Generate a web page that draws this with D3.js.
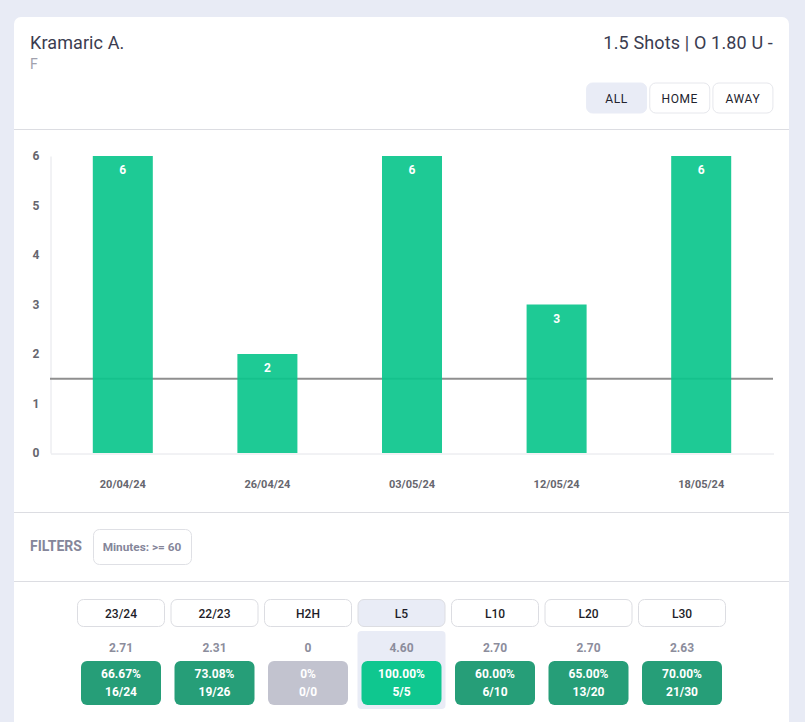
<!DOCTYPE html>
<html>
<head>
<meta charset="utf-8">
<script src="https://cdn.jsdelivr.net/npm/d3@7"></script>
<style>
html, body { margin: 0; padding: 0; background: #e8ebf5; overflow: hidden; }
text { font-family: Roboto, sans-serif; }
</style>
</head>
<body>
<div id="chart"></div>
<script>
//chart data
var dates = ["20/04/24", "26/04/24", "03/05/24", "12/05/24", "18/05/24"];
var shots = [6, 2, 6, 3, 6];
var yTicks = [0, 1, 2, 3, 4, 5, 6];
var lineValue = 1.5;

//period table data
var periods = ["23/24", "22/23", "H2H", "L5", "L10", "L20", "L30"];
var averages = ["2.71", "2.31", "0", "4.60", "2.70", "2.70", "2.63"];
var percents = ["66.67%", "73.08%", "0%", "100.00%", "60.00%", "65.00%", "70.00%"];
var records = ["16/24", "19/26", "0/0", "5/5", "6/10", "13/20", "21/30"];
var activePeriod = "L5";

var venues = ["ALL", "HOME", "AWAY"];

var svgWidth = 805;
var svgHeight = 722;

var plot = { top: 156, bottom: 453, left: 50, right: 773 };

var svg = d3.select("#chart")
    .append("svg")
    .attr("width", svgWidth)
    .attr("height", svgHeight)
    .style("display", "block");

//card and dividers
svg.append("rect")
    .attr("x", 14).attr("y", 17)
    .attr("width", 775).attr("height", 730)
    .attr("rx", 7)
    .attr("fill", "#fff");

svg.selectAll(".divider")
    .data([129.5, 512.5, 581.5])
    .enter()
    .append("line")
    .attr("class", "divider")
    .attr("x1", 14).attr("x2", 789)
    .attr("y1", d => d).attr("y2", d => d)
    .attr("stroke", "#dcdde2");

//header
svg.append("text")
    .attr("x", 30).attr("y", 49)
    .attr("font-size", 18)
    .attr("letter-spacing", 0.1)
    .attr("fill", "#3b3c50")
    .text("Kramaric A.");

svg.append("text")
    .attr("x", 30).attr("y", 69)
    .attr("font-size", 14)
    .attr("fill", "#a0a1ad")
    .text("F");

svg.append("text")
    .attr("x", 773).attr("y", 49)
    .attr("text-anchor", "end")
    .attr("font-size", 18)
    .attr("letter-spacing", 0.15)
    .attr("fill", "#3b3c50")
    .text("1.5 Shots | O 1.80 U -");

//venue buttons
var venueX = d3.scaleBand()
    .domain(venues)
    .range([585, 774.5]);

var venueG = svg.selectAll(".venue")
    .data(venues)
    .enter()
    .append("g")
    .attr("class", "venue")
    .attr("transform", d => `translate(${venueX(d) + venueX.bandwidth() / 2}, 98)`);

venueG.append("rect")
    .attr("x", -30).attr("y", -15)
    .attr("width", 60).attr("height", 30)
    .attr("rx", 6)
    .attr("fill", d => d == "ALL" ? "#e9ecf6" : "#fff")
    .attr("stroke", d => d == "ALL" ? "#e9ecf6" : "#e6e7ec");

venueG.append("text")
    .attr("text-anchor", "middle")
    .attr("y", 4.5)
    .attr("font-size", 12)
    .attr("font-weight", 400)
    .attr("letter-spacing", 0.6)
    .attr("fill", "#22232e")
    .text(d => d);

//scales
var x = d3.scaleBand()
    .domain(dates)
    .range([plot.left + 0.5, plot.right + 0.5])
    .paddingInner(0.585)
    .paddingOuter(0.2925);

var y = d3.scaleLinear()
    .domain([0, 6])
    .range([plot.bottom, plot.top]);

//axes
var leftAxis = d3.axisLeft(y).tickValues(yTicks).tickSize(0).tickPadding(11).tickFormat(d3.format("d"));
var bottomAxis = d3.axisBottom(x).tickSize(0).tickPadding(27);

var leftG = svg.append("g")
    .attr("transform", `translate(${plot.left + 0.5}, 0)`)
    .call(leftAxis);

var bottomG = svg.append("g")
    .attr("transform", `translate(0, ${plot.bottom + 0.5})`)
    .call(bottomAxis);

leftG.select(".domain").attr("stroke", "#e4e5ea");
bottomG.select(".domain").attr("stroke", "#e4e5ea");

svg.selectAll(".tick text")
    .attr("font-family", "Roboto, sans-serif")
    .attr("font-size", 12)
    .attr("font-weight", 700)
    .attr("fill", "#66666e");

bottomG.selectAll(".tick text").attr("font-size", 11);

//line value sits behind the bars
svg.append("line")
    .attr("x1", plot.left).attr("x2", plot.right)
    .attr("y1", y(lineValue)).attr("y2", y(lineValue))
    .attr("stroke", "#8f8f8f")
    .attr("stroke-width", 2);

//bars
svg.selectAll(".bar")
    .data(shots)
    .enter()
    .append("rect")
    .attr("class", "bar")
    .attr("x", (d, i) => x(dates[i]))
    .attr("y", d => y(d))
    .attr("width", x.bandwidth())
    .attr("height", d => y(0) - y(d))
    .attr("fill", "#0bc68c")
    .attr("fill-opacity", 0.92);

//bar labels
svg.selectAll(".barLabel")
    .data(shots)
    .enter()
    .append("text")
    .attr("class", "barLabel")
    .attr("x", (d, i) => x(dates[i]) + x.bandwidth() / 2)
    .attr("y", d => y(d) + 18)
    .attr("text-anchor", "middle")
    .attr("font-size", 12)
    .attr("font-weight", 700)
    .attr("fill", "#fff")
    .text(d => d);

//filters row
svg.append("text")
    .attr("x", 30).attr("y", 551)
    .attr("font-size", 14)
    .attr("font-weight", 700)
    .attr("fill", "#85869a")
    .text("FILTERS");

svg.append("rect")
    .attr("x", 93.5).attr("y", 529.5)
    .attr("width", 98).attr("height", 35)
    .attr("rx", 6)
    .attr("fill", "#fff")
    .attr("stroke", "#dfe0e5");

svg.append("text")
    .attr("x", 142).attr("y", 551)
    .attr("text-anchor", "middle")
    .attr("font-size", 11.8)
    .attr("font-weight", 700)
    .attr("fill", "#85869a")
    .text("Minutes: >= 60");

//period columns
var periodX = d3.scaleBand()
    .domain(periods)
    .range([74.25, 728.75]);

var col = svg.selectAll(".period")
    .data(periods)
    .enter()
    .append("g")
    .attr("class", "period")
    .attr("transform", d => `translate(${periodX(d) + periodX.bandwidth() / 2}, 0)`);

col.filter(d => d == activePeriod)
    .append("rect")
    .attr("x", -44).attr("y", 631)
    .attr("width", 88).attr("height", 78)
    .attr("rx", 4)
    .attr("fill", "#e9ecf6");

col.append("rect")
    .attr("x", -43.5).attr("y", 599.5)
    .attr("width", 87).attr("height", 27)
    .attr("rx", 6)
    .attr("fill", d => d == activePeriod ? "#e9ecf6" : "#fff")
    .attr("stroke", "#dcdde2");

col.append("text")
    .attr("text-anchor", "middle")
    .attr("y", 617.5)
    .attr("font-size", 12)
    .attr("font-weight", 500)
    .attr("fill", "#1d1d28")
    .text(d => d);

col.append("text")
    .attr("text-anchor", "middle")
    .attr("y", 652)
    .attr("font-size", 12)
    .attr("font-weight", 700)
    .attr("fill", "#8c8d9c")
    .text((d, i) => averages[i]);

col.append("rect")
    .attr("x", -40).attr("y", 661)
    .attr("width", 80).attr("height", 44)
    .attr("rx", 6)
    .attr("fill", (d, i) => d == activePeriod ? "#0fc78f" : records[i] == "0/0" ? "#c2c3cf" : "#269e78");

col.append("text")
    .attr("text-anchor", "middle")
    .attr("y", 678)
    .attr("font-size", 12)
    .attr("font-weight", 700)
    .attr("fill", "#fff")
    .text((d, i) => percents[i]);

col.append("text")
    .attr("text-anchor", "middle")
    .attr("y", 696)
    .attr("font-size", 12)
    .attr("font-weight", 700)
    .attr("fill", "#fff")
    .text((d, i) => records[i]);
</script>
</body>
</html>
